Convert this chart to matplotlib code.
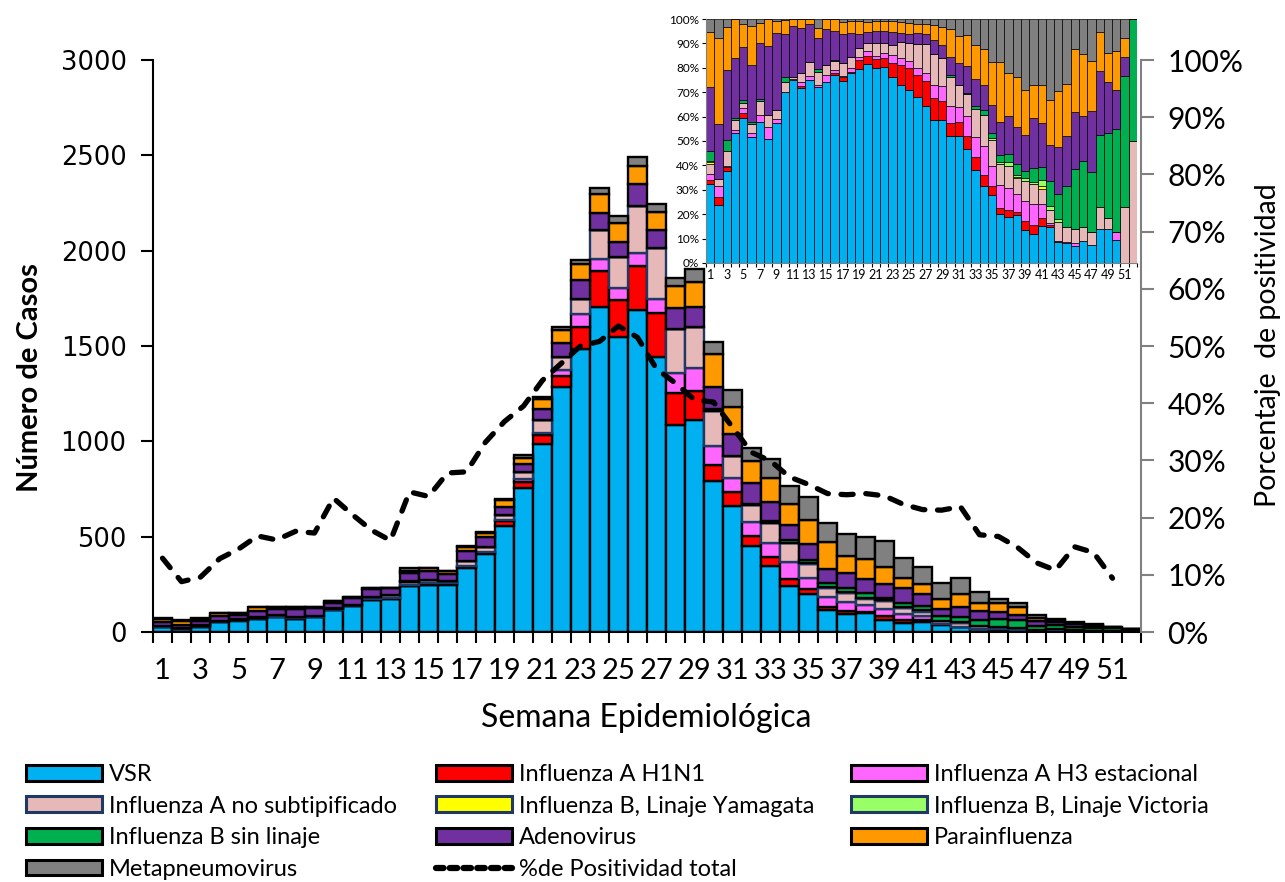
import matplotlib
matplotlib.use("Agg")
import matplotlib.pyplot as plt
import numpy as np
from matplotlib.patches import Patch
from matplotlib.lines import Line2D
from matplotlib.ticker import FixedLocator, FuncFormatter

# ---------------- data ----------------
weeks = list(range(1, 53))
week_labels = [str(w) for w in range(1, 53, 2)]

total_cases = [73, 63, 73, 101, 99, 133, 133, 133, 133, 162,
               185, 233, 233, 334, 334, 322, 451, 526, 696, 928,
               1234, 1598, 1951, 2330, 2181, 2489, 2244, 1855, 1902, 1522,
               1269, 963, 905, 767, 710, 573, 512, 500, 477, 390,
               343, 255, 281, 208, 171, 150, 89, 66, 54, 42,
               28, 17]

# share (%) of each virus per week
pct_vsr = [32.4, 23.9, 37.6, 53.3, 59.4, 51.6, 57.8, 51.0, 57.4, 70.1,
           74.8, 71.7, 75.1, 72.3, 74.2, 77.2, 74.7, 77.9, 79.6, 81.6,
           79.9, 80.3, 76.1, 73.1, 71.0, 67.9, 64.2, 58.5, 58.5, 51.9,
           51.9, 46.7, 38.3, 31.4, 28.0, 20.1, 18.9, 19.5, 13.4, 11.9,
           15.3, 14.8, 8.6, 8.2, 6.8, 8.9, 7.5, 13.9, 13.9, 9.6,
           0, 0]
pct_h1n1 = [1.6, 3.0, 1.7, 0, 2.1, 0, 0, 0, 0, 0,
            0, 1.0, 0, 0, 0, 0.7, 1.4, 0.4, 3.7, 3.1,
            3.8, 3.7, 5.9, 8.2, 8.9, 9.3, 10.3, 9.1, 8.0, 5.5,
            5.9, 5.5, 5.0, 4.5, 3.7, 2.4, 2.7, 1.4, 3.7, 3.8,
            3.1, 0.9, 0.5, 0, 0, 0, 0, 0, 0, 0,
            0, 0]
pct_h3 = [2.5, 4.5, 0.3, 1.3, 2.0, 1.7, 3.0, 4.6, 1.6, 0,
          0.8, 1.3, 1.4, 0.8, 3.0, 1.3, 0.7, 1.6, 1.2, 2.0,
          1.0, 2.0, 3.4, 2.7, 2.8, 2.7, 3.4, 5.5, 6.2, 6.8,
          6.0, 7.9, 8.2, 11.9, 8.2, 9.6, 9.1, 7.4, 8.2, 8.5,
          5.9, 0.7, 0, 0.5, 1.4, 0, 0, 0, 0, 3.0,
          0, 0]
pct_nosub = [4.0, 3.2, 6.2, 4.1, 2.1, 3.7, 5.5, 5.2, 3.8, 4.1,
             0.8, 3.9, 5.9, 5.0, 4.1, 3.5, 5.2, 4.7, 3.6, 3.5,
             5.5, 4.2, 4.1, 6.4, 7.5, 9.9, 11.9, 12.6, 11.3, 11.9,
             9.0, 9.2, 11.8, 13.0, 10.6, 8.5, 8.9, 6.5, 8.4, 8.2,
             6.2, 5.5, 7.9, 6.0, 5.9, 5.7, 5.1, 8.9, 4.5, 0,
             23.0, 50.0]
pct_yam = [0.7, 0, 0, 0, 0, 0, 0, 0, 0, 0,
           0, 0, 0, 0, 0, 0, 0, 0, 0, 0,
           0, 0, 0, 0, 0, 0, 0, 0, 0, 0,
           0, 0, 0, 0, 0, 0, 0, 0.5, 0, 0,
           1.0, 0, 0, 0, 0, 0, 0, 0, 0, 0,
           0, 0]
pct_vic = [0.5, 0, 0, 0, 0, 0, 0, 0, 0, 0,
           0, 0, 0, 0, 0, 0, 0, 0, 0, 0,
           0, 0, 0, 0, 0, 0, 0, 0, 0, 0,
           0, 0, 0, 0, 0.7, 0.8, 1.8, 0.7, 1.1, 0.8,
           2.7, 1.6, 1.0, 0, 0, 0, 0, 0, 0, 0,
           0, 0]
pct_bsin = [4.1, 0, 4.7, 0.7, 1.1, 0.7, 0.9, 0, 0, 1.9,
            0, 0, 0, 1.5, 0, 0.5, 0, 0, 0.2, 0,
            0, 0, 0, 0, 0, 0, 0, 0, 0, 0.8,
            0, 0.3, 1.2, 2.0, 2.1, 3.0, 3.4, 4.6, 3.1, 5.7,
            5.0, 10.0, 10.3, 16.8, 24.4, 27.1, 24.7, 29.5, 34.9, 42.4,
            53.8, 50.0]
pct_adeno = [26.5, 22.5, 28.7, 24.6, 21.8, 23.6, 23.0, 28.3, 31.5, 17.8,
             20.6, 18.4, 15.6, 12.6, 14.6, 11.8, 11.9, 9.7, 5.7, 4.5,
             4.7, 4.7, 5.0, 3.9, 3.7, 4.5, 4.1, 5.8, 5.5, 7.5,
             9.2, 11.3, 11.0, 10.3, 11.6, 13.4, 15.6, 15.0, 14.7, 20.5,
             18.2, 14.7, 19.1, 20.5, 23.2, 18.4, 24.9, 26.2, 20.9, 16.0,
             7.6, 0]
pct_para = [22.2, 35.1, 17.5, 16.0, 9.6, 16.0, 8.2, 10.9, 4.7, 5.6,
            3.0, 3.7, 2.0, 4.1, 4.1, 5.0, 4.7, 4.7, 5.2, 3.9,
            4.1, 4.1, 4.5, 4.4, 4.5, 3.8, 4.2, 6.2, 7.1, 11.5,
            10.9, 12.4, 13.7, 14.6, 17.5, 24.6, 17.5, 20.6, 18.4, 13.7,
            15.7, 18.8, 23.2, 21.5, 26.0, 25.6, 20.5, 16.1, 11.9, 16.0,
            7.8, 0]
pct_meta = [5.5, 7.8, 3.3, 0, 1.9, 2.7, 1.6, 0, 1.0, 0.5,
            0, 0, 0, 3.7, 0, 0, 1.4, 1.0, 0.8, 1.4,
            1.0, 1.0, 1.0, 1.3, 1.6, 1.9, 1.9, 2.3, 3.4, 4.1,
            7.1, 6.7, 10.8, 12.3, 17.6, 17.6, 22.1, 23.8, 29.0, 26.9,
            26.9, 33.0, 29.4, 26.5, 12.3, 14.3, 17.3, 5.4, 13.9, 13.0,
            7.8, 0]

positividad = [12.9, 8.8, 9.6, 12.8, 14.5, 16.8, 16.1, 17.6, 17.3, 23.4,
               20.5, 17.8, 16.0, 24.5, 23.7, 27.8, 28.0, 33.2, 36.8, 39.5,
               44.0, 47.0, 50.0, 50.8, 53.5, 51.5, 46.0, 43.5, 40.6, 40.2,
               35.8, 31.4, 29.9, 27.1, 25.8, 24.2, 24.0, 24.2, 23.8, 22.3,
               21.4, 21.3, 21.9, 17.0, 16.7, 14.8, 12.1, 10.8, 14.9, 13.9,
               9.4]

series_names = ["VSR", "Influenza A H1N1", "Influenza A H3 estacional",
                "Influenza A no subtipificado", "Influenza B, Linaje Yamagata",
                "Influenza B, Linaje Victoria", "Influenza B sin linaje",
                "Adenovirus", "Parainfluenza", "Metapneumovirus"]
series_pct = [pct_vsr, pct_h1n1, pct_h3, pct_nosub, pct_yam, pct_vic,
              pct_bsin, pct_adeno, pct_para, pct_meta]
colors = ["#00B0F0", "#FF0000", "#FF66FF", "#E6B9B8", "#FFFF00",
          "#99FF66", "#00B050", "#7030A0", "#FF9900", "#808080"]
edgecols = ["black", "black", "black", "#1F3864", "#1F3864",
            "#1F3864", "black", "black", "black", "black"]

# ---------------- figure ----------------
W, H = 1285, 882
fig = plt.figure(figsize=(W / 100, H / 100), dpi=100)
LAT = ["Lato", "DejaVu Sans"]

def fx(px):
    return px / W

def fy(py):
    return 1 - py / H

ax = fig.add_axes([fx(153), fy(632), fx(1141) - fx(153), fy(60) - fy(632)])
x = np.array(weeks)
tot = np.array(total_cases, dtype=float)
bottom = np.zeros(len(weeks))
for name, pct, c, ec in zip(series_names, series_pct, colors, edgecols):
    vals = tot * np.array(pct) / 100.0
    ax.bar(x, vals, width=1.0, bottom=bottom, color=c, edgecolor=ec,
           linewidth=1.7, zorder=2)
    bottom += vals

ax.set_xlim(0.5, 52.5)
ax.set_ylim(0, 3000)
ax.set_yticks(range(0, 3001, 500))
ax.tick_params(axis="y", labelsize=18.5, length=9, width=1.5, direction="out", pad=10)
for lab in ax.get_yticklabels():
    lab.set_family("DejaVu Sans")
ax.set_xticks(range(1, 53, 2))
ax.set_xticklabels(week_labels, family=LAT, fontsize=21)
ax.xaxis.set_minor_locator(FixedLocator(np.arange(0.5, 53, 1.0)))
ax.tick_params(axis="x", which="major", length=0, pad=19)
ax.tick_params(axis="x", which="minor", length=8, width=1.5, direction="out")
for s in ["top", "right"]:
    ax.spines[s].set_visible(False)
ax.spines["left"].set_linewidth(1.5)
ax.spines["bottom"].set_linewidth(1.5)

ax2 = ax.twinx()
ax2.set_ylim(0, 100)
ax2.set_yticks(range(0, 101, 10))
ax2.yaxis.set_major_formatter(FuncFormatter(lambda v, p: f"{int(v)}%"))
ax2.tick_params(axis="y", labelsize=21.5, length=9, width=1.5, colors="#808080",
                labelcolor="black", pad=10)
for lab in ax2.get_yticklabels():
    lab.set_family(LAT)
for s in ["top", "left", "bottom"]:
    ax2.spines[s].set_visible(False)
ax2.spines["right"].set_color("#808080")
ax2.spines["right"].set_linewidth(1.5)
ax2.plot(x[:len(positividad)], positividad, color="black", lw=3.8,
         linestyle=(0, (2.3, 2.4)), dash_capstyle="round", zorder=5)

fig.text(fx(30), fy(378), "Número de Casos", rotation=90, ha="center", va="center",
         fontsize=21, fontweight="bold", family=LAT)
fig.text(fx(1268), fy(345), "Porcentaje  de positividad", rotation=90, ha="center",
         va="center", fontsize=20.5, family=LAT)
fig.text(fx(646), fy(718), "Semana Epidemiológica", ha="center", va="center",
         fontsize=23, family=LAT)

# ---------------- inset ----------------
axi = fig.add_axes([fx(706), fy(263), fx(1137) - fx(706), fy(19) - fy(263)])
axi.set_zorder(10)
axi.set_facecolor("white")
bottom = np.zeros(len(weeks))
for pct, c in zip(series_pct, colors):
    vals = np.array(pct, dtype=float)
    axi.bar(x, vals, width=1.0, bottom=bottom, color=c, edgecolor="black",
            linewidth=0.5)
    bottom += vals
axi.set_xlim(0.5, 52.5)
axi.set_ylim(0, 100)
axi.set_yticks(range(0, 101, 10))
axi.yaxis.set_major_formatter(FuncFormatter(lambda v, p: f"{int(v)}%"))
axi.set_xticks(range(1, 53, 2))
axi.set_xticklabels(week_labels)
axi.xaxis.set_minor_locator(FixedLocator(np.arange(0.5, 53, 1.0)))
axi.tick_params(axis="x", which="major", length=0, labelsize=9, pad=4)
axi.tick_params(axis="x", which="minor", length=3, width=0.8)
axi.tick_params(axis="y", labelsize=8.5, length=3, width=0.8, pad=2)
for lab in axi.get_xticklabels() + axi.get_yticklabels():
    lab.set_family(LAT)
for s in ["top", "right"]:
    axi.spines[s].set_visible(False)
axi.spines["left"].set_color("#808080")
axi.spines["bottom"].set_color("#808080")

# ---------------- legend ----------------
handles = []
for name, c, ec in zip(series_names, colors, edgecols):
    handles.append(Patch(facecolor=c, edgecolor=ec, linewidth=2.2, label=name))
line_handle = Line2D([0], [0], color="black", lw=4.5, linestyle=(0, (1.2, 1.0)),
                     dash_capstyle="round", label="%de Positividad total")
cols = [
    [handles[0], handles[3], handles[6], handles[9]],
    [handles[1], handles[4], handles[7], line_handle],
    [handles[2], handles[5], handles[8]],
]
col_x = [26, 436, 851]
for cx, hs in zip(col_x, cols):
    fig.legend(handles=hs, loc="upper left", bbox_to_anchor=(fx(cx), fy(764)),
               frameon=False, prop={"family": LAT, "size": 17},
               handlelength=3.2, handleheight=0.65, handletextpad=0.3,
               labelspacing=0.45, borderpad=0, borderaxespad=0)

fig.savefig("out.png", dpi=100)
